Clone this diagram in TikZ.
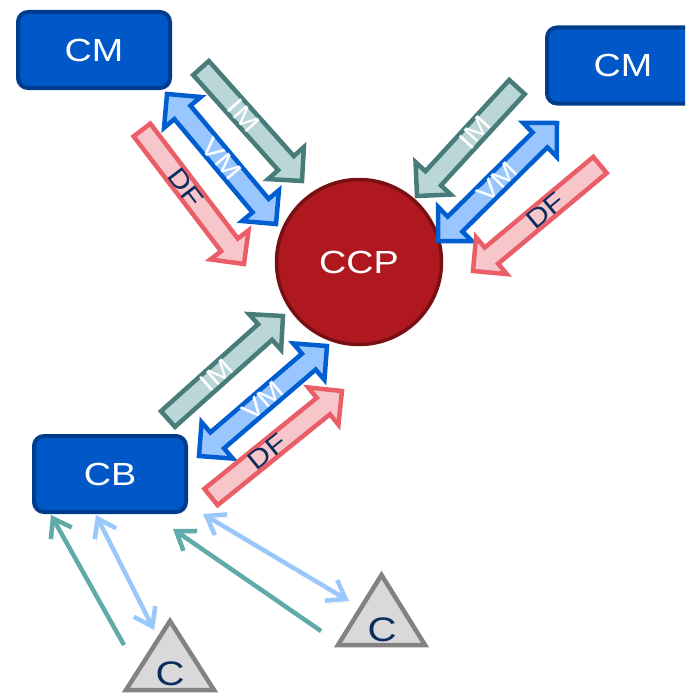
\documentclass[tikz,border=0pt]{standalone}
\usepackage{fontspec}
\setmainfont[FakeStretch=1.18]{Liberation Sans}
\usetikzlibrary{arrows.meta}
\definecolor{boxfill}{RGB}{0,88,200}
\definecolor{boxdraw}{RGB}{0,60,140}
\definecolor{ccpfill}{RGB}{176,24,32}
\definecolor{ccpdraw}{RGB}{120,15,20}
\definecolor{imfill}{RGB}{186,214,214}
\definecolor{imdraw}{RGB}{72,124,122}
\definecolor{vmfill}{RGB}{153,198,255}
\definecolor{vmdraw}{RGB}{0,94,208}
\definecolor{dffill}{RGB}{246,198,202}
\definecolor{dfdraw}{RGB}{234,94,104}
\definecolor{navy}{RGB}{12,44,92}
\definecolor{tealline}{RGB}{96,170,170}
\definecolor{blueline}{RGB}{155,200,250}
\definecolor{trifill}{RGB}{217,217,217}
\definecolor{tridraw}{RGB}{130,130,130}
\tikzset{
  mainbox/.style={draw=boxdraw, fill=boxfill, line width=4pt, rounded corners=10pt,
    minimum width=152pt, minimum height=76pt, text=white, font=\fontsize{32}{32}\selectfont},
  ccp/.style={circle, draw=ccpdraw, fill=ccpfill, line width=3.5pt, minimum size=165pt,
    text=white, font=\fontsize{32}{32}\selectfont},
  im/.style={draw=imdraw, fill=imfill, line width=4.5pt, line join=miter},
  vm/.style={draw=vmdraw, fill=vmfill, line width=4.5pt, line join=miter},
  df/.style={draw=dfdraw, fill=dffill, line width=4.5pt, line join=miter},
  lab/.style={inner sep=0pt, font=\fontsize{26}{26}\selectfont},
  im label/.style={lab, text=white},
  vm label/.style={lab, text=white},
  df label/.style={lab, text=navy},
  shad/.style={preaction={draw=black, opacity=0.12, transform canvas={shift={(2pt,-3pt)}}}},
  tealarrow/.style={shad, draw=tealline, line width=4.5pt, -{Straight Barb[length=17pt,width=24pt]}},
  bluearrow/.style={shad, draw=blueline, line width=4.5pt, {Straight Barb[length=17pt,width=24pt]}-{Straight Barb[length=17pt,width=24pt]}},
  tri/.style={draw=tridraw, fill=trifill, line width=4.5pt, line join=miter},
  ctext/.style={text=navy, inner sep=0pt, font=\fontsize{34}{34}\selectfont},
}
\newcommand\BlkSingle[7]{%
  \pgfmathsetmacro\aLen{veclen(#5-#3,#6-#4)}%
  \pgfmathsetmacro\aAng{atan2(#4-#6,#5-#3)}%
  \pgfmathsetmacro\tAng{ifthenelse(\aAng<-90,\aAng+180,ifthenelse(\aAng>90,\aAng-180,\aAng))}%
  \pgfmathsetmacro\aNeck{\aLen-24}%
  \begin{scope}[shift={(#3,#4)},rotate=\aAng]
    \draw[#2] (0,-10.5) -- (\aNeck,-10.5) -- (\aNeck,-24) -- (\aLen,0) -- (\aNeck,24) -- (\aNeck,10.5) -- (0,10.5) -- cycle;
    \node[#2 label, rotate=\tAng] (#1) at (\aNeck/2,0) {#7};
  \end{scope}}
\newcommand\BlkDouble[7]{%
  \pgfmathsetmacro\aLen{veclen(#5-#3,#6-#4)}%
  \pgfmathsetmacro\aAng{atan2(#4-#6,#5-#3)}%
  \pgfmathsetmacro\tAng{ifthenelse(\aAng<-90,\aAng+180,ifthenelse(\aAng>90,\aAng-180,\aAng))}%
  \pgfmathsetmacro\aNeck{\aLen-24}%
  \begin{scope}[shift={(#3,#4)},rotate=\aAng]
    \draw[#2] (0,0) -- (24,-24) -- (24,-10.5) -- (\aNeck,-10.5) -- (\aNeck,-24) -- (\aLen,0) -- (\aNeck,24) -- (\aNeck,10.5) -- (24,10.5) -- (24,24) -- cycle;
    \node[#2 label, rotate=\tAng] (#1) at (\aLen/2,0) {#7};
  \end{scope}}
\begin{document}
\begin{tikzpicture}[x=1pt,y=-1pt]
\useasboundingbox (0,0) rectangle (685,693);
\clip (0,0) rectangle (685,693);
% main nodes
\node[mainbox] (cmL) at (94,50) {CM};
\node[mainbox] (cmR) at (623,65.5) {CM};
\node[mainbox] (cb) at (110,474) {CB};
\node[ccp] (ccpn) at (359,262) {CCP};
% top-left group
\BlkSingle{imTL}{im}{201}{68}{302}{181}{IM}
\BlkDouble{vmTL}{vm}{167}{94}{276}{224}{VM}
\BlkSingle{dfTL}{df}{142}{130}{244}{264}{DF}
% top-right group
\BlkSingle{imTR}{im}{517}{87}{417}{196}{IM}
\BlkDouble{vmTR}{vm}{557}{123}{438}{241}{VM}
\BlkSingle{dfTR}{df}{600}{165}{473}{271}{DF}
% bottom group
\BlkSingle{imB}{im}{168}{419}{283}{316}{IM}
\BlkDouble{vmB}{vm}{199}{456}{327}{346}{VM}
\BlkSingle{dfB}{df}{211}{497}{342}{391}{DF}
% triangles
\coordinate (c1a) at (170,621);
\coordinate (c1l) at (126,690);
\coordinate (c1r) at (214,690);
\draw[tri] (c1a) -- (c1r) -- (c1l) -- cycle;
\node[ctext] (c1) at (170,674) {C};
\coordinate (c2a) at (381.5,575);
\coordinate (c2l) at (338,645);
\coordinate (c2r) at (425,645);
\draw[tri] (c2a) -- (c2r) -- (c2l) -- cycle;
\node[ctext] (c2) at (382,630) {C};
% thin arrows
\coordinate (t1s) at (124,645);
\coordinate (t1e) at (51,515);
\coordinate (b1s) at (96,515);
\coordinate (b1e) at (154,630);
\coordinate (t2s) at (321,631);
\coordinate (t2e) at (173,529);
\coordinate (b2s) at (203,514);
\coordinate (b2e) at (349,601);
\draw[tealarrow] (t1s) -- (t1e);
\draw[bluearrow] (b1s) -- (b1e);
\draw[tealarrow] (t2s) -- (t2e);
\draw[bluearrow] (b2s) -- (b2e);
\end{tikzpicture}
\end{document}
